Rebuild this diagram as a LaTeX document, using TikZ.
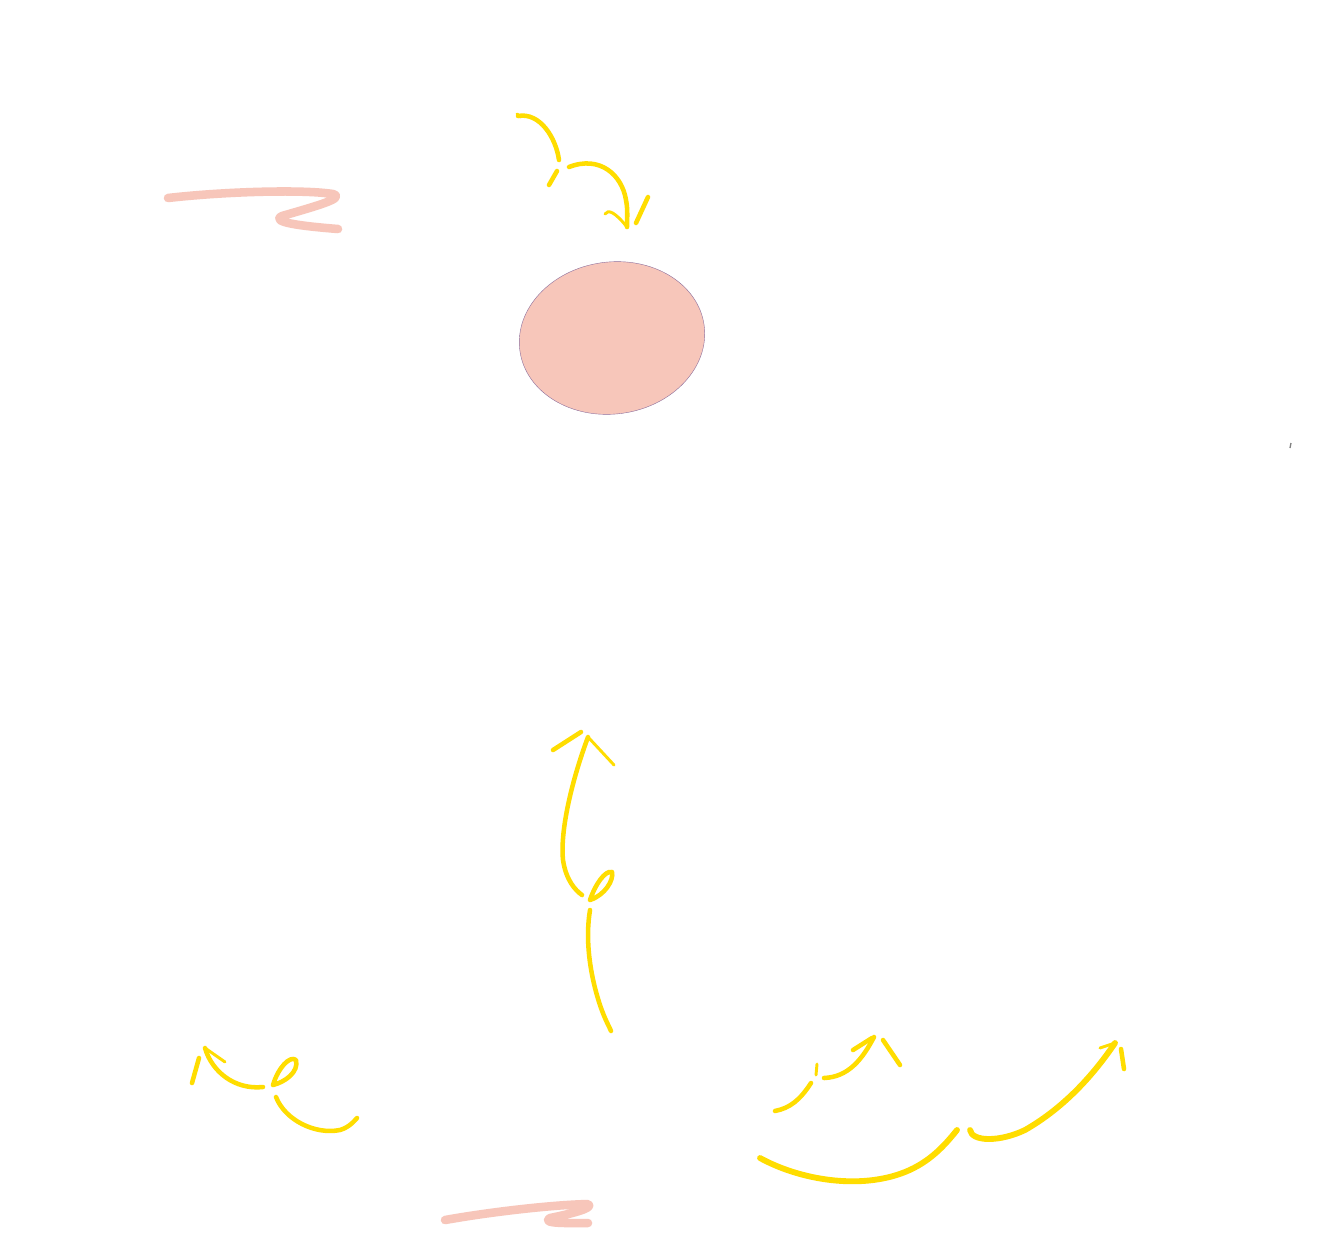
\documentclass[tikz,border=0pt]{standalone}
\usepackage{tikz}
\usetikzlibrary{shapes.geometric}
\definecolor{sketchyellow}{HTML}{FFDD00}
\definecolor{sketchpink}{HTML}{F7C6BA}
\definecolor{rimpurple}{HTML}{8C6E9C}
\tikzset{
  ystroke/.style={draw=sketchyellow, line width=3.4pt, line cap=round, line join=round},
  ybold/.style={draw=sketchyellow, line width=4.4pt, line cap=round, line join=round},
  ythin/.style={draw=sketchyellow, line width=2.2pt, line cap=round},
  pstroke/.style={draw=sketchpink, line width=6.4pt, line cap=round, line join=round},
  blob/.style={ellipse, fill=sketchpink, draw=rimpurple, line width=0.3pt,
    minimum width=186*0.75pt, minimum height=152*0.75pt, rotate=8, inner sep=0pt}
}
\begin{document}
\begin{tikzpicture}[x=0.75pt,y=-0.75pt]
\useasboundingbox (0,0) rectangle (1338,1250);
\fill[white] (0,0) rectangle (1338,1250);

% pink ellipse
\node[blob] (egg) at (612,338) {};

% top-left pink squiggle
\draw[pstroke] (168,198) .. controls (220,192) and (300,189) .. (333,194)
  .. controls (345,198) and (320,205) .. (282,216)
  .. controls (270,222) and (300,226) .. (338,229);

% bottom pink squiggle
\draw[pstroke] (445,1220) .. controls (490,1212) and (550,1205) .. (588,1204)
  .. controls (595,1208) and (570,1214) .. (550,1218)
  .. controls (540,1224) and (570,1223) .. (588,1223);

% tiny dark mark
\draw[gray, line width=1pt] (1291,443) -- (1290,448);

% top arrow (broken sketch)
\draw[ystroke] (518,116) .. controls (540,112) and (556,138) .. (559,160);
\draw[ythin] (517,114) -- (521,117);
\draw[ystroke] (549,185) -- (557,171);
\draw[ystroke] (569,167) .. controls (600,155) and (622,175) .. (626,200)
  .. controls (628,210) and (627,220) .. (627,227);
\coordinate (ttip) at (627,227);
\draw[ythin] (605,214) .. controls (608,209) and (615,212) .. (ttip);
\draw[ystroke] (648,197) -- (636,223);

% middle arrow
\coordinate (mtip) at (588,737);
\draw[ystroke] (mtip) .. controls (572,780) and (560,830) .. (563,860)
  .. controls (566,880) and (575,890) .. (582,895);
\draw[ystroke] (553,750) -- (581,732);
\draw[ythin] (mtip) -- (614,765);
\draw[ystroke] (590,900) .. controls (595,885) and (605,870) .. (612,872)
  .. controls (614,880) and (605,895) .. (590,900);
\draw[ystroke] (590,910) .. controls (585,940) and (590,975) .. (600,1005)
  .. controls (605,1020) and (610,1028) .. (611,1031);

% bottom-left arrow
\coordinate (ltip) at (205,1048);
\draw[ystroke] (ltip) .. controls (212,1072) and (235,1090) .. (263,1087);
\draw[ystroke] (192,1083) -- (199,1058);
\draw[ythin] (ltip) -- (225,1062);
\draw[ystroke] (273,1085) .. controls (278,1068) and (290,1055) .. (296,1060)
  .. controls (299,1072) and (285,1082) .. (273,1085);
\draw[ystroke] (276,1097) .. controls (285,1120) and (315,1135) .. (340,1130)
  .. controls (350,1127) and (355,1120) .. (357,1118);

% bottom-right small arrow
\coordinate (rtip) at (874,1037);
\draw[ystroke] (rtip) .. controls (862,1060) and (848,1077) .. (824,1078);
\draw[ystroke] (853,1050) -- (872,1038);
\draw[ystroke] (883,1040) -- (900,1065);
\draw[ythin] (816,1075) -- (817,1064);
\draw[ystroke] (811,1083) .. controls (800,1100) and (790,1108) .. (775,1111);

% bottom-right big arrow
\coordinate (btip) at (1115,1043);
\draw[ybold] (760,1158) .. controls (800,1180) and (860,1190) .. (905,1172)
  .. controls (930,1162) and (945,1145) .. (957,1130);
\draw[ybold] (970,1130) .. controls (972,1142) and (1000,1142) .. (1025,1130)
  .. controls (1060,1110) and (1090,1080) .. (btip);
\draw[ythin] (1100,1048) -- (btip);
\draw[ystroke] (1121,1049) -- (1124,1069);
\end{tikzpicture}
\end{document}
